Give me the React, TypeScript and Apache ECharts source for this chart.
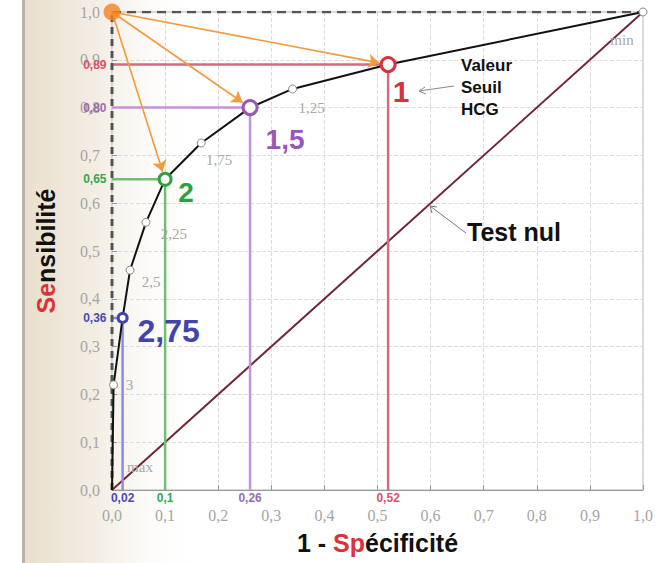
import React, { useEffect, useRef } from 'react';
import * as echarts from 'echarts';

// ROC curve points (1 - specificity, sensitivity) with their threshold labels
const rocX = [0, 0.003, 0.02, 0.034, 0.064, 0.1, 0.168, 0.26, 0.34, 0.52, 1.0];
const rocY = [0, 0.22, 0.36, 0.46, 0.56, 0.65, 0.726, 0.8, 0.839, 0.89, 1.0];
const rocLabels = ['max', '3', '2,75', '2,5', '2,25', '2', '1,75', '1,5', '1,25', '1', 'min'];

// highlighted thresholds
const keyNames = ['1', '1,5', '2', '2,75'];
const keyX = [0.52, 0.26, 0.1, 0.02];
const keyY = [0.89, 0.8, 0.65, 0.36];
const keyXText = ['0,52', '0,26', '0,1', '0,02'];
const keyYText = ['0,89', '0,80', '0,65', '0,36'];

// null test diagonal
const nullX = [0, 1];
const nullY = [0, 1];

// ideal point
const idealPoint = [0, 1];

const keyTextColors = ['#d8323f', '#9a55b8', '#2ea043', '#4343ad'];
const keyLineColors = ['#d46a80', '#c493d8', '#6cc070', '#8c8ce6'];
const keyAxisColors = ['#e0506a', '#9b6bb0', '#34a84c', '#4a4ab4'];
const keyFontSizes = [30, 28, 28, 32];
const keySymbolSizes = [14, 14, 12, 9];
const keyOffsets = [[13, 27], [35, 32], [21, 13], [46, 13]];
const grayOffsets: Record<string, number[]> = {
  max: [28, -23],
  '3': [16, 0],
  '2,5': [21, 12],
  '2,25': [28, 12],
  '1,75': [18, 17],
  '1,25': [19, 19],
  min: [-21, 28],
};

const fmt = (v: number) => v.toFixed(1).replace('.', ',');
const SANS = 'Liberation Sans, Arial, sans-serif';
const SERIF = 'Liberation Serif, DejaVu Serif, serif';

export default function App() {
  const ref = useRef<HTMLDivElement>(null);
  useEffect(() => {
    document.body.style.margin = '0';
    const chart = echarts.init(ref.current!, undefined, { renderer: 'svg' });

    const rocData = rocX.map((x, i) => {
      const name = rocLabels[i];
      const k = keyNames.indexOf(name);
      if (k >= 0) {
        return {
          value: [x, rocY[i]],
          symbol: 'circle',
          symbolSize: keySymbolSizes[k],
          itemStyle: { color: '#fff', borderColor: keyTextColors[k], borderWidth: 3 },
          label: {
            show: true,
            formatter: name,
            position: 'inside',
            offset: keyOffsets[k],
            color: keyTextColors[k],
            fontSize: keyFontSizes[k],
            fontWeight: 'bold',
            fontFamily: SANS,
          },
        };
      }
      const isEnd = name === 'max';
      return {
        value: [x, rocY[i]],
        symbol: 'circle',
        symbolSize: isEnd ? 1 : 8,
        itemStyle: isEnd
          ? { color: 'transparent', borderWidth: 0 }
          : { color: '#fff', borderColor: '#888', borderWidth: 1 },
        label: {
          show: true,
          formatter: name,
          position: 'inside',
          offset: grayOffsets[name] || [15, 10],
          color: '#a8a8a8',
          fontSize: 15,
          fontFamily: SERIF,
        },
      };
    });

    const dropSeries = keyX.map((x, k) => ({
      type: 'line',
      z: 3,
      data: [
        {
          value: [0, keyY[k]],
          label: {
            show: true,
            formatter: keyYText[k],
            position: 'left',
            distance: 5,
            color: keyAxisColors[k],
            fontSize: 12,
            fontWeight: 'bold',
            fontFamily: SANS,
          },
        },
        { value: [x, keyY[k]] },
        {
          value: [x, 0],
          label: {
            show: true,
            formatter: keyXText[k],
            position: 'bottom',
            distance: 1,
            color: keyAxisColors[k],
            fontSize: 12,
            fontWeight: 'bold',
            fontFamily: SANS,
          },
        },
      ],
      symbol: 'circle',
      symbolSize: 1,
      itemStyle: { color: 'transparent' },
      lineStyle: { color: keyLineColors[k], width: 2.5 },
      silent: true,
    }));

    // arrows from the ideal point to the highlighted thresholds (stop short of the circle)
    const pxX = 531, pxY = 478;
    const arrowData = keyX.slice(0, 3).map((x, k) => {
      const dx = (x - idealPoint[0]) * pxX;
      const dy = (keyY[k] - idealPoint[1]) * pxY;
      const len = Math.sqrt(dx * dx + dy * dy);
      const t = 1 - (keySymbolSizes[k] / 2 + 2) / len;
      return [
        { coord: idealPoint },
        { coord: [idealPoint[0] + (x - idealPoint[0]) * t, idealPoint[1] + (keyY[k] - idealPoint[1]) * t] },
      ];
    });

    const axisCommon = {
      type: 'value',
      min: 0,
      max: 1,
      interval: 0.1,
      axisLabel: {
        formatter: fmt,
        color: '#a5a5a5',
        fontSize: 16,
        fontFamily: SERIF,
      },
      splitLine: { show: true, lineStyle: { color: '#dcdcdc', type: 'dashed', width: 1 } },
      axisTick: { show: true, inside: true, length: 5, lineStyle: { color: '#999' } },
    };

    const nameRich = {
      a: { fontSize: 25, fontWeight: 'bold', color: '#111', fontFamily: SANS },
      r: { fontSize: 25, fontWeight: 'bold', color: '#e0303a', fontFamily: SANS },
    };

    chart.setOption({
      animation: false,
      backgroundColor: '#fff',
      grid: { left: 112, right: 24, top: 12, bottom: 73, show: true, borderColor: '#b5b5b5', borderWidth: 1 },
      xAxis: {
        ...axisCommon,
        axisLine: { show: true, lineStyle: { color: '#999', width: 1 } },
        axisLabel: { ...axisCommon.axisLabel, margin: 17 },
        name: '{a|1 - }{r|Sp}{a|écificité}',
        nameLocation: 'middle',
        nameGap: 40,
        nameTextStyle: { rich: nameRich },
      },
      yAxis: {
        ...axisCommon,
        axisLine: { show: false },
        axisLabel: { ...axisCommon.axisLabel, margin: 12 },
        name: '{r|Se}{a|nsibilité}',
        nameLocation: 'middle',
        nameRotate: 90,
        nameGap: 54,
        nameTextStyle: { rich: nameRich },
      },
      graphic: [
        {
          type: 'rect',
          z: -100,
          shape: { x: 22, y: 0, width: 300, height: 563 },
          style: {
            fill: new echarts.graphic.LinearGradient(0, 0, 1, 0, [
              { offset: 0, color: '#e8dfcd' },
              { offset: 0.25, color: '#f3eee4' },
              { offset: 0.6, color: 'rgba(255,255,255,0)' },
            ]),
          },
        },
        { type: 'rect', z: -99, shape: { x: 22, y: 0, width: 3, height: 563 }, style: { fill: '#bcb3a8' } },
        {
          type: 'text',
          z: 100,
          left: 461,
          top: 54,
          style: {
            text: 'Valeur\nSeuil\nHCG',
            fill: '#111',
            font: 'bold 17px Liberation Sans, Arial, sans-serif',
            lineHeight: 22,
          },
        },
        { type: 'line', z: 100, shape: { x1: 454, y1: 86, x2: 419, y2: 91 }, style: { stroke: '#888', lineWidth: 1 } },
        { type: 'polyline', z: 100, shape: { points: [[425, 87], [419, 91], [426, 94]] }, style: { stroke: '#888', lineWidth: 1, fill: 'none' } },
        {
          type: 'text',
          z: 100,
          left: 467,
          top: 219,
          style: { text: 'Test nul', fill: '#111', font: 'bold 25px Liberation Sans, Arial, sans-serif' },
        },
        { type: 'line', z: 100, shape: { x1: 466, y1: 233, x2: 430, y2: 206 }, style: { stroke: '#777', lineWidth: 1 } },
        { type: 'polyline', z: 100, shape: { points: [[432, 213], [430, 206], [437, 207]] }, style: { stroke: '#777', lineWidth: 1, fill: 'none' } },
      ],
      series: [
        ...dropSeries,
        {
          type: 'line',
          z: 2,
          data: nullX.map((x, i) => [x, nullY[i]]),
          showSymbol: false,
          lineStyle: { color: '#6e2638', width: 2 },
          silent: true,
        },
        {
          type: 'line',
          z: 4,
          data: [[0, 1], [1, 1]],
          showSymbol: false,
          lineStyle: { color: '#555', width: 2.5, type: [9, 6] },
          silent: true,
        },
        {
          type: 'line',
          z: 4,
          data: [[0, 0], [0, 1]],
          showSymbol: false,
          lineStyle: { color: '#555', width: 3, type: [7, 5] },
          silent: true,
        },
        {
          type: 'scatter',
          z: 6,
          data: [],
          markLine: {
            silent: true,
            symbol: ['none', 'arrow'],
            symbolSize: 11,
            label: { show: false },
            lineStyle: { color: '#f39a3c', width: 1.6, type: 'solid' },
            itemStyle: { color: '#f39a3c' },
            data: arrowData,
          },
        },
        {
          type: 'line',
          z: 7,
          data: rocData,
          lineStyle: { color: '#111', width: 2 },
          showAllSymbol: true,
          silent: true,
        },
        {
          type: 'scatter',
          z: 8,
          data: [idealPoint],
          symbolSize: 17,
          itemStyle: { color: '#f5821f' },
          silent: true,
        },
      ],
    });
    return () => chart.dispose();
  }, []);
  return <div ref={ref} style={{ position: 'fixed', left: 0, top: 0, width: 667, height: 563 }} />;
}
